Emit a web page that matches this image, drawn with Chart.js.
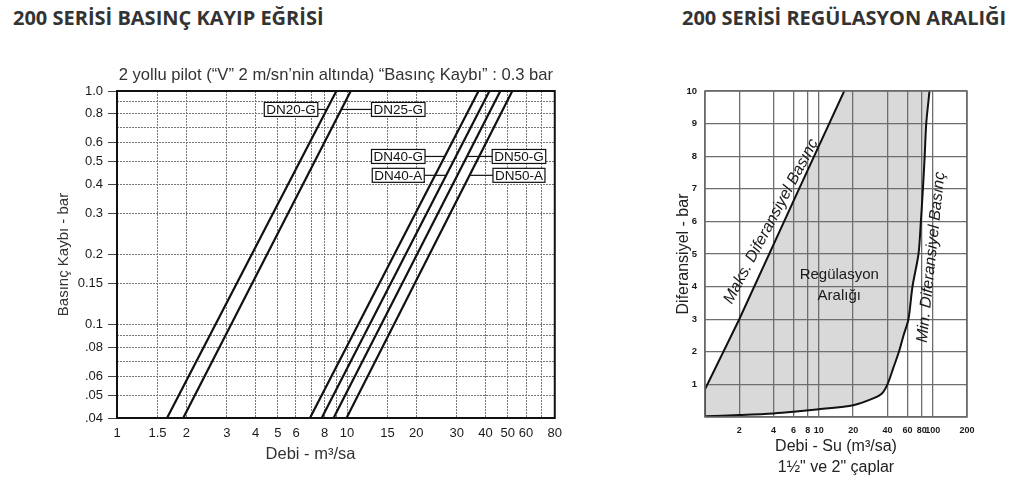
<!DOCTYPE html>
<html>
<head>
<meta charset="utf-8">
<script src="https://cdn.jsdelivr.net/npm/chart.js@4"></script>
<style>
    body {margin: 0; background: #fff; width: 1024px; height: 487px; overflow: hidden; position: relative;}
    h2 {position: absolute; margin: 0; top: 6px; font: 700 20px/24px "Open Sans", sans-serif; color: #333;}
    canvas {position: absolute;}
</style>
</head>
<body>
<h2 style="left:13px">200 SERİSİ BASINÇ KAYIP EĞRİSİ</h2>
<h2 style="left:682px">200 SERİSİ REGÜLASYON ARALIĞI</h2>
<canvas id="chart1" width="530" height="427" style="left:40px;top:60px"></canvas>
<canvas id="chart2" width="384" height="427" style="left:640px;top:60px"></canvas>
<script>
// --- pressure loss chart (left) ---
const lossTitle = '2 yollu pilot (“V” 2 m/sn’nin altında) “Basınç Kaybı” : 0.3 bar';
const lossXTitle = 'Debi - m³/sa';
const lossSeries = ['DN20-G', 'DN25-G', 'DN40-G', 'DN40-A', 'DN50-G', 'DN50-A'];
const lossPressure = [0.04, 1.0];                          // bar, bottom and top of each line
const lossFlowAtMin = [1.65, 1.94, 6.90, 7.76, 8.74, 9.95]; // m3/sa at 0.04 bar
const lossFlowAtMax = [8.99, 10.38, 37.3, 41.6, 46.4, 52.3]; // m3/sa at 1.0 bar
const lossXGrid = [1, 1.5, 2, 3, 4, 5, 6, 7, 8, 9, 10, 15, 20, 30, 40, 50, 60, 70, 80];
const lossXLabels = [1, 1.5, 2, 3, 4, 5, 6, 8, 10, 15, 20, 30, 40, 50, 60, 80];
const lossYGrid = [0.04, 0.05, 0.06, 0.07, 0.08, 0.09, 0.1, 0.15, 0.2, 0.3, 0.4, 0.5, 0.6, 0.7, 0.8, 0.9, 1.0];
const lossYLabelValues = [1.0, 0.8, 0.6, 0.5, 0.4, 0.3, 0.2, 0.15, 0.1, 0.08, 0.06, 0.05, 0.04];
const lossYLabelText = ['1.0', '0.8', '0.6', '0.5', '0.4', '0.3', '0.2', '0.15', '0.1', '.08', '.06', '.05', '.04'];
// where each series tag sits (box centre)
const tagPressure = [0.834, 0.834, 0.525, 0.436, 0.525, 0.436];
const tagFlow = [5.71, 16.7, 16.7, 16.7, 55.9, 55.9];

// --- regulation range chart (right) ---
const rangeXGrid = [1, 2, 4, 6, 8, 10, 20, 40, 60, 80, 100, 200];
const rangeXLabels = [2, 4, 6, 8, 10, 20, 40, 60, 80, 100, 200];
const maxDiffFlow = [1, 1, 2, 6.7, 16.7];
const maxDiffBar = [0.02, 0.85, 3.0, 7.0, 10];
const minDiffFlow = [1, 2, 4, 6, 10, 20, 30, 36, 40, 45, 50.5, 55.4, 61.2, 66.4, 75, 78.7, 82, 85, 87.7, 93.7];
const minDiffBar = [0.02, 0.06, 0.11, 0.16, 0.24, 0.36, 0.57, 0.73, 1.0, 1.5, 2.0, 2.5, 3.0, 4.0, 5.0, 6.0, 7.0, 8.0, 9.0, 10.0];
const noteText = ['Maks. Diferansiyel Basınç', 'Min. Diferansiyel Basınç'];
const noteFlow = [3.8, 97];
const noteBar = [6.0, 4.9];
const regionText = ['Regülasyon', 'Aralığı'];
const regionFlow = [15.1, 15.1];
const regionBar = [4.36, 3.71];

Chart.defaults.font.family = '"Liberation Sans", Arial, sans-serif';
Chart.defaults.color = '#1a1a1a';
Chart.defaults.animation = false;

function flowAtPressure(i, p) {
    const t = (Math.log(p) - Math.log(lossPressure[0])) / (Math.log(lossPressure[1]) - Math.log(lossPressure[0]));
    return Math.exp(Math.log(lossFlowAtMin[i]) + t * (Math.log(lossFlowAtMax[i]) - Math.log(lossFlowAtMin[i])));
}

const framePlugin = {
    id: 'frame',
    afterDatasetsDraw(chart, args, opts) {
        const a = chart.chartArea;
        const ctx = chart.ctx;
        ctx.save();
        ctx.strokeStyle = opts.color;
        ctx.lineWidth = opts.width;
        ctx.strokeRect(a.left, a.top, a.right - a.left, a.bottom - a.top);
        ctx.restore();
    }
};

// subtitle and x title sit off-centre in the original, so draw them here
const captionPlugin = {
    id: 'captions',
    afterDraw(chart) {
        const {ctx, chartArea: a} = chart;
        ctx.save();
        ctx.fillStyle = '#333';
        ctx.textAlign = 'center';
        ctx.textBaseline = 'middle';
        ctx.font = '16.6px "Liberation Sans", Arial, sans-serif';
        ctx.fillText(lossTitle, (a.left + a.right) / 2, a.top - 16);
        ctx.font = '16.5px "Liberation Sans", Arial, sans-serif';
        ctx.fillText(lossXTitle, a.left + (a.right - a.left) * 0.442, a.bottom + 36);
        ctx.restore();
    }
};

const tagPlugin = {
    id: 'tags',
    afterDatasetsDraw(chart) {
        const {ctx, scales: {x, y}} = chart;
        ctx.save();
        ctx.font = '13.5px "Liberation Sans", Arial, sans-serif';
        ctx.textBaseline = 'middle';
        ctx.textAlign = 'center';
        lossSeries.forEach((name, i) => {
            const cx = x.getPixelForValue(tagFlow[i]);
            const cy = y.getPixelForValue(tagPressure[i]);
            const lx = x.getPixelForValue(flowAtPressure(i, tagPressure[i]));
            const w = ctx.measureText(name).width + 4, h = 14;
            const edge = lx > cx ? cx + w / 2 : cx - w / 2;
            ctx.strokeStyle = '#111';
            ctx.lineWidth = 1.2;
            ctx.beginPath();
            ctx.moveTo(edge, cy);
            ctx.lineTo(lx, cy);
            ctx.stroke();
            ctx.fillStyle = '#fff';
            ctx.fillRect(cx - w / 2, cy - h / 2, w, h);
            ctx.strokeRect(cx - w / 2, cy - h / 2, w, h);
            ctx.fillStyle = '#111';
            ctx.fillText(name, cx, cy + 0.5);
        });
        ctx.restore();
    }
};

new Chart(document.getElementById('chart1'), {
    type: 'scatter',
    data: {
        datasets: lossSeries.map((name, i) => ({
            label: name,
            data: [{x: lossFlowAtMin[i], y: lossPressure[0]}, {x: lossFlowAtMax[i], y: lossPressure[1]}],
            showLine: true,
            borderColor: '#111',
            borderWidth: 2.2,
            pointRadius: 0
        }))
    },
    options: {
        responsive: false,
        devicePixelRatio: 1,
        layout: {padding: {top: 31, right: 13}},
        plugins: {
            legend: {display: false},
            tooltip: {enabled: false},
            frame: {color: '#111', width: 2}
        },
        scales: {
            x: {
                type: 'logarithmic',
                min: 1,
                max: 80,
                afterBuildTicks: axis => { axis.ticks = lossXGrid.map(v => ({value: v})); },
                afterFit: axis => { axis.height = 69; },
                ticks: {
                    autoSkip: false,
                    maxRotation: 0,
                    padding: 8,
                    font: {size: 13},
                    callback: v => lossXLabels.includes(v) ? String(v) : ''
                },
                grid: {color: '#777', lineWidth: 1, drawTicks: false},
                border: {display: false, dash: [2, 1]}
            },
            y: {
                type: 'logarithmic',
                min: 0.04,
                max: 1.0,
                afterBuildTicks: axis => { axis.ticks = lossYGrid.map(v => ({value: v})); },
                afterFit: axis => { axis.width = 77; },
                ticks: {
                    autoSkip: false,
                    padding: 5,
                    font: {size: 13},
                    callback: v => {
                        const k = lossYLabelValues.findIndex(l => Math.abs(l - v) < 1e-9);
                        return k < 0 ? '' : lossYLabelText[k];
                    }
                },
                grid: {
                    color: '#777',
                    lineWidth: 1,
                    tickLength: 9,
                    tickBorderDash: [],
                    tickColor: c => lossYLabelValues.some(l => Math.abs(l - c.tick.value) < 1e-9) ? '#444' : 'rgba(0,0,0,0)'
                },
                border: {display: false, dash: [2, 1]},
                title: {display: true, text: 'Basınç Kaybı - bar', font: {size: 15}, color: '#333', padding: {top: 15, bottom: 0}}
            }
        }
    },
    plugins: [framePlugin, tagPlugin, captionPlugin]
});

const regionFillPlugin = {
    id: 'regionFill',
    beforeDraw(chart) {
        const {ctx, scales: {x, y}} = chart;
        ctx.save();
        ctx.fillStyle = '#d9d9d9';
        ctx.beginPath();
        maxDiffFlow.forEach((f, i) => {
            const px = x.getPixelForValue(f), py = y.getPixelForValue(maxDiffBar[i]);
            i === 0 ? ctx.moveTo(px, py) : ctx.lineTo(px, py);
        });
        for (let i = minDiffFlow.length - 1; i >= 0; i--) {
            ctx.lineTo(x.getPixelForValue(minDiffFlow[i]), y.getPixelForValue(minDiffBar[i]));
        }
        ctx.closePath();
        ctx.fill();
        ctx.restore();
    }
};

const notePlugin = {
    id: 'notes',
    afterDatasetsDraw(chart) {
        const {ctx, scales: {x, y}} = chart;
        const angles = [-62, -84];
        ctx.save();
        ctx.fillStyle = '#1a1a1a';
        ctx.textAlign = 'center';
        ctx.textBaseline = 'middle';
        ctx.font = 'italic 16px "Liberation Sans", Arial, sans-serif';
        noteText.forEach((t, i) => {
            ctx.save();
            ctx.translate(x.getPixelForValue(noteFlow[i]), y.getPixelForValue(noteBar[i]));
            ctx.rotate(angles[i] * Math.PI / 180);
            ctx.fillText(t, 0, 0);
            ctx.restore();
        });
        ctx.font = '15px "Liberation Sans", Arial, sans-serif';
        regionText.forEach((t, i) => {
            ctx.fillText(t, x.getPixelForValue(regionFlow[i]), y.getPixelForValue(regionBar[i]));
        });
        ctx.restore();
    }
};

new Chart(document.getElementById('chart2'), {
    type: 'scatter',
    data: {
        datasets: [{
            label: 'Maks. Diferansiyel Basınç',
            data: maxDiffFlow.map((f, i) => ({x: f, y: maxDiffBar[i]})),
            showLine: true,
            borderColor: '#111',
            borderWidth: 2,
            pointRadius: 0
        }, {
            label: 'Min. Diferansiyel Basınç',
            data: minDiffFlow.map((f, i) => ({x: f, y: minDiffBar[i]})),
            showLine: true,
            borderColor: '#111',
            borderWidth: 2,
            pointRadius: 0,
            tension: 0.3
        }]
    },
    options: {
        responsive: false,
        devicePixelRatio: 1,
        layout: {padding: {top: 31, right: 57}},
        plugins: {
            legend: {display: false},
            tooltip: {enabled: false},
            frame: {color: '#6a6a6a', width: 1.5}
        },
        scales: {
            x: {
                type: 'logarithmic',
                min: 1,
                max: 200,
                afterBuildTicks: axis => { axis.ticks = rangeXGrid.map(v => ({value: v})); },
                afterFit: axis => { axis.height = 70; },
                ticks: {
                    autoSkip: false,
                    maxRotation: 0,
                    padding: 8,
                    font: {size: 9, weight: 'bold'},
                    callback: v => rangeXLabels.includes(v) ? String(v) : ''
                },
                grid: {color: '#6e6e6e', lineWidth: 1.3, drawTicks: false},
                border: {display: false},
                title: {
                    display: true,
                    text: ['Debi - Su (m³/sa)', '1½" ve 2" çaplar'],
                    font: {size: 16, lineHeight: 1.3},
                    color: '#222',
                    padding: {top: 0, bottom: 9.5}
                }
            },
            y: {
                min: 0,
                max: 10,
                afterFit: axis => { axis.width = 65; },
                ticks: {
                    stepSize: 1,
                    padding: 8,
                    font: {size: 9.5, weight: 'bold'},
                    callback: v => v === 0 ? '' : String(v)
                },
                grid: {color: '#6e6e6e', lineWidth: 1.3, drawTicks: false},
                border: {display: false},
                title: {display: true, text: 'Diferansiyel - bar', font: {size: 16}, color: '#222', padding: {top: 34, bottom: 0}}
            }
        }
    },
    plugins: [regionFillPlugin, framePlugin, notePlugin]
});
</script>
</body>
</html>
